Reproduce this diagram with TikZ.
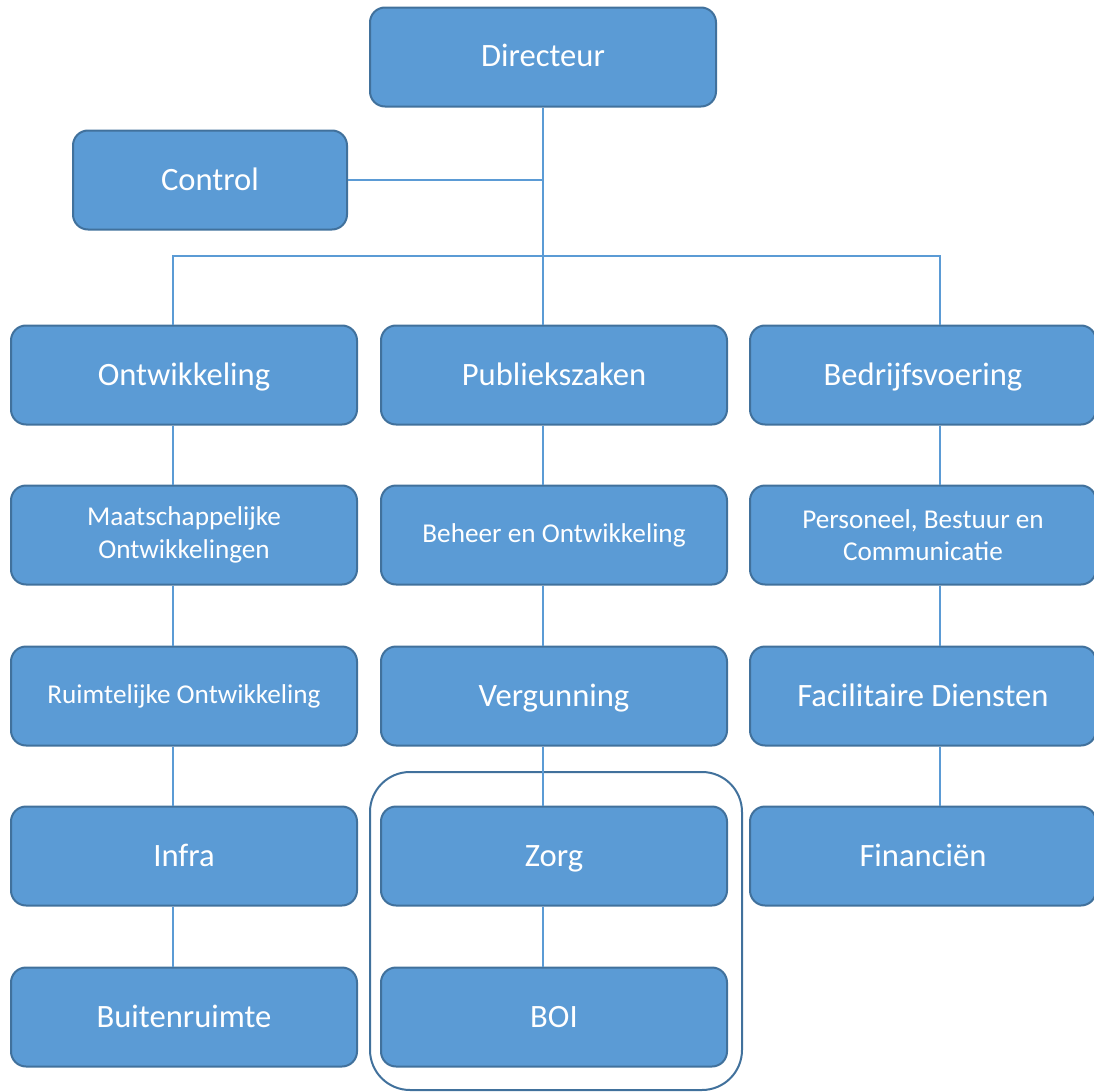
\documentclass[tikz,border=0pt]{standalone}
\usepackage{fontspec}
\setmainfont{Carlito}
\definecolor{vlak}{HTML}{5B9BD5}
\definecolor{rand}{HTML}{41719C}
\begin{document}
\begin{tikzpicture}[x=0.5pt,y=-0.5pt,
        box/.style={draw=rand,line width=1pt,fill=vlak,rounded corners=7.5pt,text=white,
            minimum width=173pt,minimum height=49.5pt,inner sep=0pt,align=center,
            text height=11pt,text depth=1pt,
            font=\fontsize{16.3}{19}\selectfont},
        klein/.style={text height=9pt,text depth=1.5pt,font=\fontsize{13.6}{16.2}\selectfont},
        twee/.style={klein,text height=,text depth=},
        link/.style={draw=vlak,line width=0.75pt},
        groep/.style={draw=rand,line width=1pt,rounded corners=20pt,
            minimum width=186pt,minimum height=159pt}]
        \useasboundingbox (0,0) rectangle (1094,1092);

        % bovenste laag
        \node[box] (dir) at (543,57) {Directeur};
        \node[box,minimum width=137pt] (ctrl) at (210,180) {Control};

        % afdelingen
        \node[box] (ont) at (184,375) {Ontwikkeling};
        \node[box] (pz) at (554,375) {Publiekszaken};
        \node[box] (bv) at (923,375) {Bedrijfsvoering};

        \node[box,twee] (mo) at (184,535) {Maatschappelijke\\Ontwikkelingen};
        \node[box,klein] (ro) at (184,696) {Ruimtelijke Ontwikkeling};
        \node[box] (infra) at (184,856) {Infra};
        \node[box] (br) at (184,1017) {Buitenruimte};

        \node[box,klein] (beo) at (554,535) {Beheer en Ontwikkeling};
        \node[box] (verg) at (554,696) {Vergunning};
        \node[groep] (zb) at (556,931) {};
        \node[box] (zorg) at (554,856) {Zorg};
        \node[box] (boi) at (554,1017) {BOI};

        \node[box,twee] (pbc) at (923,535) {Personeel, Bestuur en\\Communicatie};
        \node[box] (fd) at (923,696) {Facilitaire Diensten};
        \node[box] (fin) at (923,856) {Financiën};

        % lijnen
        \coordinate (busL) at (173,256);
        \coordinate (busR) at (940,256);
        \draw[link] (dir.south) -- (dir.south |- pz.north);
        \draw[link] (ctrl.east) -- (ctrl.east -| dir.south);
        \draw[link] (busL |- ont.north) -- (busL) -- (busR) -- (busR |- bv.north);

        \foreach \a/\b in {ont/mo,mo/ro,ro/infra,infra/br}
            {\draw[link] (busL |- \a.south) -- (busL |- \b.north);}
        \foreach \a/\b in {pz/beo,beo/verg,verg/zorg,zorg/boi}
            {\draw[link] (dir.south |- \a.south) -- (dir.south |- \b.north);}
        \foreach \a/\b in {bv/pbc,pbc/fd,fd/fin}
            {\draw[link] (busR |- \a.south) -- (busR |- \b.north);}
    \end{tikzpicture}
\end{document}
